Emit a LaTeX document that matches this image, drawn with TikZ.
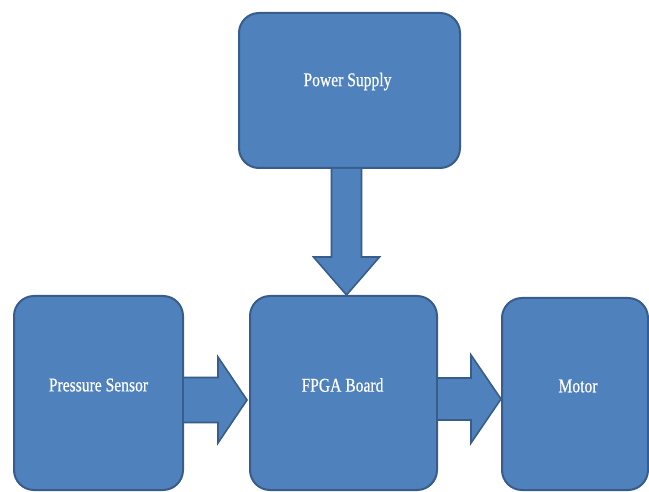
\documentclass[tikz,border=0pt]{standalone}
\usepackage{fontspec}
\setmainfont{Liberation Serif}[FakeStretch=0.8,FakeBold=0.6]
\usetikzlibrary{calc}
\definecolor{boxfill}{HTML}{4F81BD}
\definecolor{boxline}{HTML}{385D8A}
\tikzset{
  blockbox/.style={draw=boxline, fill=boxfill, line width=2pt, rounded corners=20pt, rectangle, inner sep=0pt},
  blockarrow/.style={draw=boxline, fill=boxfill, line width=1.6pt, line join=miter},
  label/.style={text=white, font=\fontsize{19.5}{22}\selectfont, inner sep=0pt}
}
\begin{document}
\begin{tikzpicture}[x=1pt,y=-1pt]
\useasboundingbox (0,0) rectangle (649,492);
\fill[white] (0,0) rectangle (649,492);
% boxes
\node[blockbox, minimum width=221pt, minimum height=155pt] (ps) at (349.5,90.5) {};
\node[blockbox, minimum width=169pt, minimum height=194pt] (pr) at (98.5,393) {};
\node[blockbox, minimum width=187pt, minimum height=194pt] (fpga) at (343.5,393) {};
\node[blockbox, minimum width=146pt, minimum height=192pt] (mot) at (575,394) {};
% labels
\node[label] (tps) at ($(ps.center)+(-2,-9)$) {Power Supply};
\node[label] (tpr) at ($(pr.center)+(0,-8)$) {Pressure Sensor};
\node[label] (tfp) at ($(fpga.center)+(-1,-8)$) {FPGA Board};
\node[label] (tmo) at ($(mot.center)+(3,-8)$) {Motor};
% down arrow power supply -> fpga
\draw[blockarrow] let \p1=($(ps.south)+(-3,0)$), \p2=(fpga.north) in
  (\x1-15pt,\y1) -- (\x1-15pt,\y2+38pt) -- (\x1-33pt,\y2+38pt) -- (\x1,\y2)
  -- (\x1+33pt,\y2+38pt) -- (\x1+15pt,\y2+38pt) -- (\x1+15pt,\y1);
% right arrow pressure -> fpga
\draw[blockarrow] let \p1=($(pr.east)+(0,7)$), \p2=(fpga.west) in
  (\x1,\y1+22.5pt) -- (\x1+34pt,\y1+22.5pt) -- (\x1+34pt,\y1+43pt) -- (\x2-2pt,\y1)
  -- (\x1+34pt,\y1-43pt) -- (\x1+34pt,\y1-22.5pt) -- (\x1,\y1-22.5pt);
% right arrow fpga -> motor
\draw[blockarrow] let \p1=($(fpga.east)+(0,6)$), \p2=(mot.west) in
  (\x1,\y1+21pt) -- (\x1+33pt,\y1+21pt) -- (\x1+33pt,\y1+44pt) -- (\x2,\y1)
  -- (\x1+33pt,\y1-44pt) -- (\x1+33pt,\y1-21pt) -- (\x1,\y1-21pt);
\end{tikzpicture}
\end{document}
